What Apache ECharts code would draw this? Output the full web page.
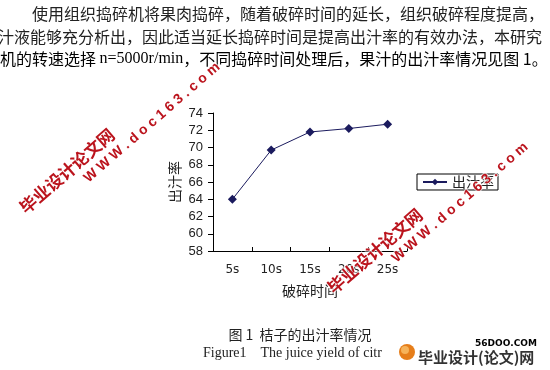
<!DOCTYPE html>
<html><head><meta charset="utf-8">
<script src="https://cdn.jsdelivr.net/npm/echarts@6/dist/echarts.min.js"></script>
<style>html,body{margin:0;padding:0;background:#fff}#c{width:550px;height:370px}</style>
</head><body><div id="c"></div>
<script>
const categories = ['5s', '10s', '15s', '20s', '25s'];
const yieldValues = [64.0, 69.7, 71.8, 72.2, 72.7];
const seriesName = '出汁率';
const yTicks = { min: 58, max: 74, interval: 2 };
const xAxisName = '破碎时间';
const bodyLines = [
  '使用组织捣碎机将果肉捣碎，随着破碎时间的延长，组织破碎程度提高，',
  '汁液能够充分析出，因此适当延长捣碎时间是提高出汁率的有效办法，本研究',
  ['机的转速选择 ', 'n=5000r/min', '，不同捣碎时间处理后，果汁的出汁率情况见图 1。']
];
const captionCn = '图 1  桔子的出汁率情况';
const captionEn = 'Figure1    The juice yield of citr';
const wmCn = '毕业设计论文网';
const wmEn = 'W W W . d o c 1 6 3 . c o m';

const CJK = '"Noto Sans CJK SC", "Noto Sans", sans-serif';
const wmColor = '#bb141d';
function wm(x, y, text, font) {
  return { type: 'text', x: x, y: y, rotation: 41 * Math.PI / 180, z: 100,
    style: { text: text, font: font, fill: wmColor, stroke: 'rgba(255,255,255,0.7)', lineWidth: 2,
      textAlign: 'left', textVerticalAlign: 'middle' } };
}
const chart = echarts.init(document.getElementById('c'));
chart.setOption({
  backgroundColor: '#fff',
  animation: false,
  grid: { left: 213, top: 113, width: 194, height: 138 },
  legend: {
    left: 417, top: 174, orient: 'vertical',
    borderColor: '#000', borderWidth: 1, padding: [1, 4, 1, 5],
    itemWidth: 24, itemHeight: 8, itemGap: 0,
    textStyle: { fontFamily: CJK, fontSize: 14, color: '#222' },
    data: [seriesName]
  },
  xAxis: {
    type: 'category', data: categories, boundaryGap: true,
    name: xAxisName, nameLocation: 'middle', nameGap: 33,
    nameTextStyle: { fontFamily: CJK, fontSize: 14, color: '#222' },
    axisLine: { lineStyle: { color: '#000', width: 1 } },
    axisTick: { show: true, inside: true, length: 4, lineStyle: { color: '#000' } },
    axisLabel: { margin: 13, fontFamily: '"DejaVu Sans", sans-serif', fontSize: 12, color: '#222' },
    splitLine: { show: false }
  },
  yAxis: {
    type: 'value', min: yTicks.min, max: yTicks.max, interval: yTicks.interval,
    name: seriesName, nameLocation: 'middle', nameGap: 31, nameRotate: 90,
    nameTextStyle: { fontFamily: CJK, fontSize: 14, color: '#222' },
    axisLine: { show: true, lineStyle: { color: '#000', width: 1 } },
    axisTick: { show: true, inside: false, length: 5, lineStyle: { color: '#000' } },
    axisLabel: { margin: 10, fontFamily: '"Liberation Sans", Arial, sans-serif', fontSize: 13, color: '#222' },
    splitLine: { show: false }
  },
  series: [{
    name: seriesName, type: 'line', data: yieldValues,
    symbol: 'diamond', symbolSize: 9,
    lineStyle: { color: '#1b1b5e', width: 1 },
    itemStyle: { color: '#1b1b5e' }
  }],
  graphic: [
    { type: 'text', x: 32, y: 14, style: { text: bodyLines[0], font: '16px ' + CJK, fill: '#222', textVerticalAlign: 'middle' } },
    { type: 'text', x: -2, y: 37, style: { text: bodyLines[1], font: '16px ' + CJK, fill: '#222', textVerticalAlign: 'middle' } },
    { type: 'text', x: 0, y: 59, style: {
        text: '{a|' + bodyLines[2][0] + '}{b|' + bodyLines[2][1] + '}{a|' + bodyLines[2][2] + '}',
        textVerticalAlign: 'middle',
        rich: { a: { fontFamily: CJK, fontSize: 16, color: '#222' },
                b: { fontFamily: '"Liberation Serif", serif', fontSize: 16, color: '#222' } } } },
    { type: 'text', x: 300, y: 335, style: { text: captionCn, font: '14px ' + CJK, fill: '#222', textAlign: 'center', textVerticalAlign: 'middle' } },
    { type: 'text', x: 203, y: 353, style: { text: captionEn, font: '14px "Liberation Serif", serif', fill: '#222', textVerticalAlign: 'middle' } },
    // logo
    { type: 'rect', shape: { x: 392, y: 340, width: 158, height: 30 }, style: { fill: '#fff' }, z: 90 },
    { type: 'circle', shape: { cx: 407, cy: 352, r: 8 }, style: { fill: '#e67e1a' }, z: 91 },
    { type: 'circle', shape: { cx: 405, cy: 350, r: 4 }, style: { fill: '#f6b35a' }, z: 92 },
    { type: 'text', x: 475, y: 344, z: 91, style: { text: '{g|56DOO}{r|.COM}', textVerticalAlign: 'middle',
        rich: { g: { fontFamily: '"DejaVu Sans", sans-serif', fontWeight: 'bold', fontSize: 9, color: '#5a9a2a' },
                r: { fontFamily: '"DejaVu Sans", sans-serif', fontWeight: 'bold', fontSize: 9, color: '#c0392b' } } } },
    { type: 'text', x: 418, y: 357, z: 91, style: { text: '毕业设计(论文)网', font: 'bold 15px ' + CJK, fill: '#333', textVerticalAlign: 'middle' } },
    // watermarks
    wm(22, 210, wmCn, 'bold 17px ' + CJK),
    wm(86, 180, wmEn, 'bold 14px "Liberation Sans", Arial, sans-serif'),
    wm(330, 290, wmCn, 'bold 17px ' + CJK),
    wm(394, 260, wmEn, 'bold 14px "Liberation Sans", Arial, sans-serif')
  ]
});
</script></body></html>
